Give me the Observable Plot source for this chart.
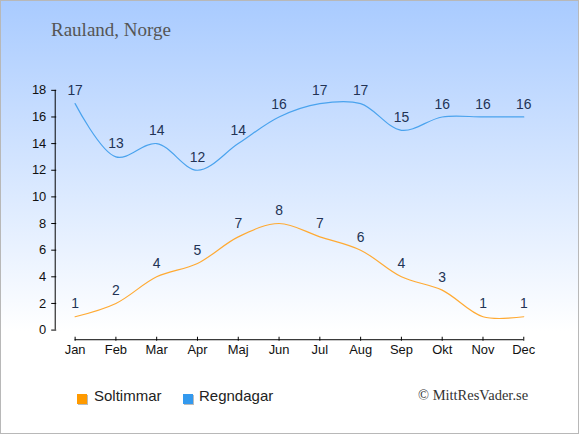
<!DOCTYPE html>
<html>
<head>
<meta charset="utf-8">
<script src="https://cdn.jsdelivr.net/npm/d3@7"></script>
<script src="https://cdn.jsdelivr.net/npm/@observablehq/plot@0.6"></script>
<style>
  body { margin: 0; }
  #wrap {
    position: relative; width: 579px; height: 434px; box-sizing: border-box;
    border: 1px solid #b8b8b8;
    background: linear-gradient(to bottom, #a9cbff 0px, #ffffff 330px);
    overflow: hidden;
  }
  #wrap svg { position: absolute; left: -1px; top: -1px; background: none; }
  .title { position: absolute; left: 50px; top: 18px; font-family: "Liberation Serif", serif; font-size: 19px; color: #555; }
  .caption { position: absolute; left: 417px; top: 386px; font-family: "Liberation Serif", serif; font-size: 14.5px; color: #333; }
  .leg { position: absolute; top: 386px; font-family: "Liberation Sans", Arial, sans-serif; font-size: 15px; color: #222; }
  .sq { position: absolute; width: 10px; height: 10px; box-shadow: 1px 1px 0 #bbb; }
</style>
</head>
<body>
<div id="wrap">
  <div class="title">Rauland, Norge</div>
  <div class="sq" style="left:76px; top:393px; background:#ff9a00;"></div>
  <div class="leg" style="left:93px;">Soltimmar</div>
  <div class="sq" style="left:182px; top:393px; background:#3399ee;"></div>
  <div class="leg" style="left:198px;">Regndagar</div>
  <div class="caption">© MittResVader.se</div>
</div>
<script>
const months = ["Jan","Feb","Mar","Apr","Maj","Jun","Jul","Aug","Sep","Okt","Nov","Dec"];
const soltimmar = [1,2,4,5,7,8,7,6,4,3,1,1];
const regndagar = [17,13,14,12,14,16,17,17,15,16,16,16];
const yTicks = [0,2,4,6,8,10,12,14,16,18];

const sol = months.map((m,i)=>({month:m, value:soltimmar[i]}));
const reg = months.map((m,i)=>({month:m, value:regndagar[i]}));

const chart = Plot.plot({
  width: 580, height: 435,
  marginTop: 90, marginBottom: 104, marginLeft: 54, marginRight: 54,
  style: {fontFamily: "'Liberation Sans', Arial, sans-serif", background: "none", color: "#111"},
  x: {type: "point", domain: months, range: [74.3, 526.3], padding: 0, axis: null},
  y: {domain: [0, 18], range: [331.3, 90.3], axis: null},
  marks: [
    Plot.ruleX([months[0]], {x: d => d, y1: 0, y2: 18, dx: -20, stroke: "#000", strokeWidth: 1}),
    Plot.axisY({ticks: yTicks, tickSize: 5, tickPadding: 5.5, dx: 2.5, fontSize: 13, stroke: "#000", strokeOpacity: 1, fill: "#111", label: null}),
    Plot.ruleY([0], {y: d => d, x1: () => months[0], x2: () => months[11], dy: 9.7, stroke: "#000", strokeWidth: 1}),
    Plot.axisX({ticks: months, tickSize: 4, tickPadding: 4, dy: 7.5, fontSize: 13, stroke: "#000", strokeOpacity: 1, fill: "#111", label: null}),
    Plot.line(reg, {x: "month", y: "value", stroke: "#4aa3ee", strokeWidth: 1.2, curve: "catmull-rom"}),
    Plot.line(sol, {x: "month", y: "value", stroke: "#ffaa33", strokeWidth: 1.2, curve: "catmull-rom"}),
    Plot.text(reg, {x: "month", y: "value", text: d => String(d.value), dy: -13, fontSize: 14, fill: "#223355"}),
    Plot.text(sol, {x: "month", y: "value", text: d => String(d.value), dy: -13, fontSize: 14, fill: "#223355"})
  ]
});
document.getElementById("wrap").appendChild(chart);
</script>
</body>
</html>
